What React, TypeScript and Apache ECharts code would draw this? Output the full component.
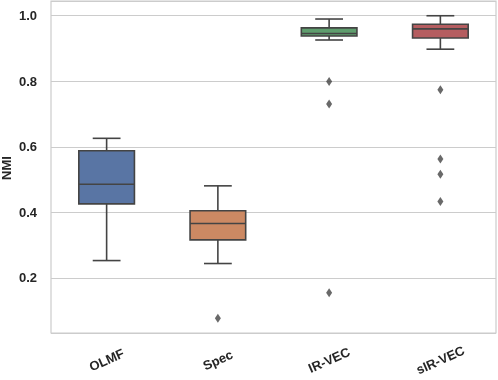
import React, { useEffect, useRef } from "react";
import * as echarts from "echarts";

const categories = ["OLMF", "Spec", "IR-VEC", "sIR-VEC"];
// [low whisker, Q1, median, Q3, high whisker]
const olmfBox = [0.253, 0.426, 0.486, 0.588, 0.626];
const specBox = [0.244, 0.316, 0.366, 0.405, 0.481];
const irvecBox = [0.926, 0.938, 0.946, 0.963, 0.99];
const sirvecBox = [0.898, 0.932, 0.96, 0.974, 1.0];
const boxes = [olmfBox, specBox, irvecBox, sirvecBox];
const boxColors = ["#5975a4", "#cc8963", "#5f9e6e", "#b55d60"];

const specOutliers = [0.077];
const irvecOutliers = [0.799, 0.731, 0.155];
const sirvecOutliers = [0.774, 0.563, 0.516, 0.433];
const outliers = [[], specOutliers, irvecOutliers, sirvecOutliers];

const yTitle = "NMI";
const yMin = 0.032;
const yMax = 1.045;

export default function App() {
  const ref = useRef<HTMLDivElement>(null);
  useEffect(() => {
    if (!ref.current) return;
    const chart = echarts.init(ref.current, undefined, { renderer: "svg" });
    const edge = "#444444";
    const boxData = boxes.map((b, i) => [i, ...b]);
    const outlierData: number[][] = [];
    outliers.forEach((arr, i) => arr.forEach((v) => outlierData.push([i, v])));
    const textStyle = {
      fontFamily: "Liberation Sans, Arial, sans-serif",
      fontSize: 13,
      fontWeight: "bold" as const,
      color: "#262626",
    };
    chart.setOption({
      animation: false,
      grid: {
        left: 51,
        right: 2,
        top: 1,
        bottom: 47,
        outerBoundsMode: "none",
        containLabel: false,
        show: true,
        borderColor: "#cccccc",
        borderWidth: 1.2,
        backgroundColor: "#ffffff",
      },
      graphic: [
        {
          type: "text",
          x: 6,
          y: 168,
          rotation: Math.PI / 2,
          style: {
            text: yTitle,
            fontFamily: textStyle.fontFamily,
            fontSize: 13,
            fontWeight: "bold",
            fill: "#262626",
            align: "center",
            verticalAlign: "middle",
          },
        },
      ],
      xAxis: {
        type: "category",
        data: categories,
        boundaryGap: true,
        axisLine: { show: false },
        axisTick: { show: false },
        splitLine: { show: false },
        axisLabel: {
          ...textStyle,
          rotate: 24,
          align: "center",
          verticalAlign: "middle",
          margin: 27,
        },
      },
      yAxis: {
        type: "value",
        min: yMin,
        max: yMax,
        splitNumber: 5,
        axisLine: { show: false },
        axisTick: { show: false },
        splitLine: { show: true, lineStyle: { color: "#cccccc", width: 1 } },
        axisLabel: {
          ...textStyle,
          margin: 14,
          formatter: (v: number) => {
            const r = Math.round(v * 5) / 5;
            if (Math.abs(v - r) > 1e-6) return "";
            return r.toFixed(1);
          },
        },
      },
      series: [
        {
          type: "custom",
          data: boxData,
          encode: { x: 0, y: [1, 2, 3, 4, 5] },
          renderItem: (params: any, api: any) => {
            const x = api.value(0);
            const lo = api.coord([x, api.value(1)]);
            const q1 = api.coord([x, api.value(2)]);
            const med = api.coord([x, api.value(3)]);
            const q3 = api.coord([x, api.value(4)]);
            const hi = api.coord([x, api.value(5)]);
            const band = api.size([1, 0])[0];
            const bw = band * 0.5;
            const cw = bw * 0.5;
            const cx = lo[0];
            const ls = { stroke: edge, lineWidth: 1.6, fill: null };
            return {
              type: "group",
              children: [
                { type: "line", shape: { x1: cx, y1: q3[1], x2: cx, y2: hi[1] }, style: ls },
                { type: "line", shape: { x1: cx, y1: q1[1], x2: cx, y2: lo[1] }, style: ls },
                { type: "line", shape: { x1: cx - cw / 2, y1: hi[1], x2: cx + cw / 2, y2: hi[1] }, style: ls },
                { type: "line", shape: { x1: cx - cw / 2, y1: lo[1], x2: cx + cw / 2, y2: lo[1] }, style: ls },
                {
                  type: "rect",
                  shape: { x: cx - bw / 2, y: q3[1], width: bw, height: q1[1] - q3[1] },
                  style: { fill: boxColors[params.dataIndex], stroke: edge, lineWidth: 1.6 },
                },
                { type: "line", shape: { x1: cx - bw / 2, y1: med[1], x2: cx + bw / 2, y2: med[1] }, style: ls },
              ],
            };
          },
        },
        {
          type: "scatter",
          data: outlierData,
          symbol: "diamond",
          symbolSize: [6, 9],
          itemStyle: { color: "#444444" },
        },
      ],
    });
    return () => chart.dispose();
  }, []);
  return (
    <div
      ref={ref}
      style={{ position: "fixed", left: 0, top: 0, width: 498, height: 380 }}
    />
  );
}
